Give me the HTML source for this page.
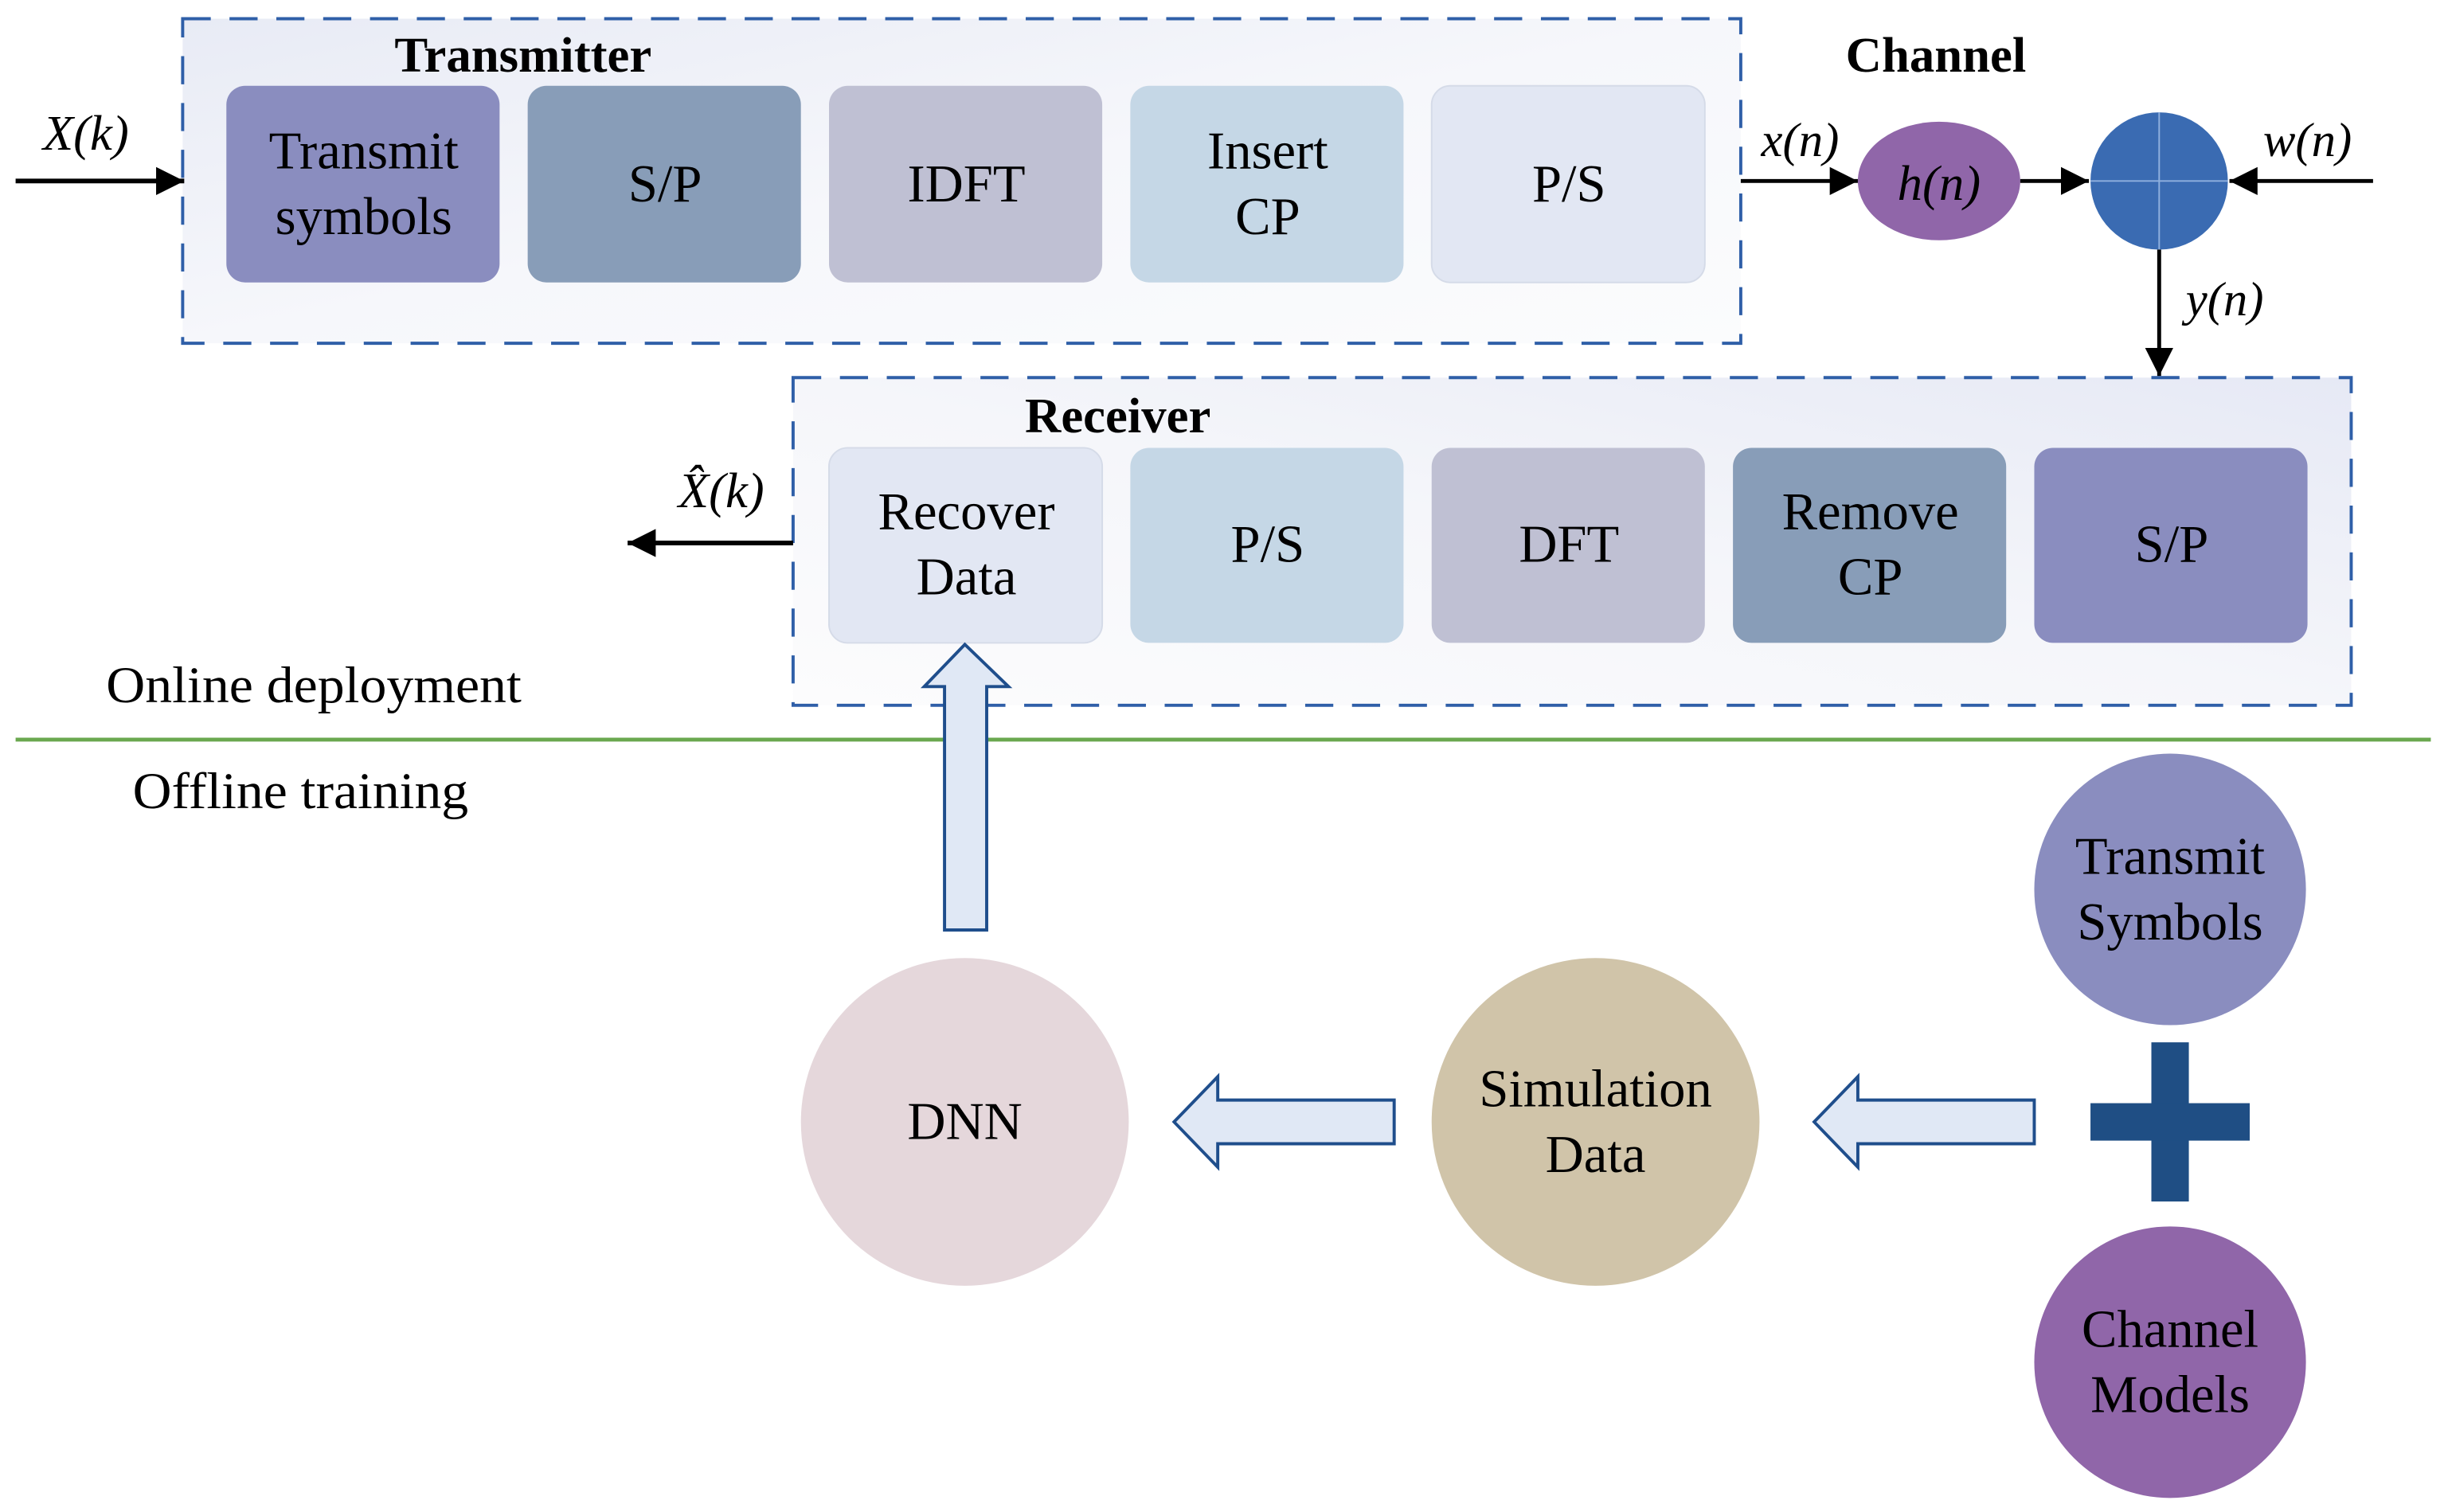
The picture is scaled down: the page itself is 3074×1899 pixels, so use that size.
<!DOCTYPE html>
<html><head><meta charset="utf-8"><style>
html,body{margin:0;padding:0;background:#fff}
svg{display:block}
text{font-family:"Liberation Serif",serif;fill:#000}
</style></head><body>
<svg width="3074" height="1899" viewBox="0 0 1568 969" preserveAspectRatio="none" xmlns="http://www.w3.org/2000/svg">
<defs>
<linearGradient id="g1" x1="0" y1="0" x2="1" y2="1">
<stop offset="0" stop-color="#e8ebf5"/><stop offset="0.5" stop-color="#f6f7fb"/><stop offset="1" stop-color="#fbfcfd"/>
</linearGradient>
<linearGradient id="g2" x1="1" y1="0" x2="0" y2="1">
<stop offset="0" stop-color="#e6e9f5"/><stop offset="0.5" stop-color="#f5f6fa"/><stop offset="1" stop-color="#fcfcfd"/>
</linearGradient>
<marker id="ah" viewBox="0 0 10 10" refX="10" refY="5" markerWidth="18" markerHeight="18" markerUnits="userSpaceOnUse" orient="auto">
<path d="M0,0 L10,5 L0,10 z" fill="#000"/></marker>
</defs>

<rect x="117" y="12" width="998" height="208" fill="url(#g1)" stroke="#2f5fa8" stroke-width="2" stroke-dasharray="18,12"/>
<text x="335" y="46" font-size="32" font-weight="bold" text-anchor="middle">Transmitter</text>
<rect x="145" y="55" width="175" height="126" rx="12" fill="#8a8dbf"/>
<rect x="338" y="55" width="175" height="126" rx="12" fill="#889db8"/>
<rect x="531" y="55" width="175" height="126" rx="12" fill="#bfc0d3"/>
<rect x="724" y="55" width="175" height="126" rx="12" fill="#c5d7e6"/>
<rect x="917" y="55" width="175" height="126" rx="12" fill="#e2e7f3" stroke="#d5dbe8"/>
<g font-size="34" text-anchor="middle">
<text x="233" y="108">Transmit</text><text x="233" y="150">symbols</text>
<text x="426" y="129">S/P</text>
<text x="619" y="129">IDFT</text>
<text x="812" y="108">Insert</text><text x="812" y="150">CP</text>
<text x="1005" y="129">P/S</text>
</g>
<line x1="10" y1="116" x2="118" y2="116" stroke="#000" stroke-width="3" marker-end="url(#ah)"/>
<text x="55" y="96" font-size="32" font-style="italic" text-anchor="middle">X(k)</text>

<text x="1240" y="46" font-size="32" font-weight="bold" text-anchor="middle">Channel</text>
<text x="1153" y="100" font-size="31" font-style="italic" text-anchor="middle">x(n)</text>
<line x1="1115" y1="116" x2="1190" y2="116" stroke="#000" stroke-width="2.5" marker-end="url(#ah)"/>
<ellipse cx="1242" cy="116" rx="52" ry="38" fill="#9066a9"/>
<text x="1242" y="128" font-size="32" font-style="italic" text-anchor="middle">h(n)</text>
<line x1="1294" y1="116" x2="1338" y2="116" stroke="#000" stroke-width="2.5" marker-end="url(#ah)"/>
<circle cx="1383" cy="116" r="44" fill="#3a6bb2"/>
<line x1="1339" y1="116" x2="1427" y2="116" stroke="#8fb0de" stroke-width="1"/>
<line x1="1383" y1="72" x2="1383" y2="160" stroke="#8fb0de" stroke-width="1"/>
<line x1="1520" y1="116" x2="1428" y2="116" stroke="#000" stroke-width="2.5" marker-end="url(#ah)"/>
<text x="1478" y="100" font-size="31" font-style="italic" text-anchor="middle">w(n)</text>
<line x1="1383" y1="160" x2="1383" y2="241" stroke="#000" stroke-width="2.5" marker-end="url(#ah)"/>
<text x="1425" y="202" font-size="31" font-style="italic" text-anchor="middle">y(n)</text>

<rect x="508" y="242" width="998" height="210" fill="url(#g2)" stroke="#2f5fa8" stroke-width="2" stroke-dasharray="18,12"/>
<text x="716" y="277" font-size="32" font-weight="bold" text-anchor="middle">Receiver</text>
<rect x="531" y="287" width="175" height="125" rx="12" fill="#e2e7f3" stroke="#d5dbe8"/>
<rect x="724" y="287" width="175" height="125" rx="12" fill="#c5d7e6"/>
<rect x="917" y="287" width="175" height="125" rx="12" fill="#bfc0d3"/>
<rect x="1110" y="287" width="175" height="125" rx="12" fill="#889db8"/>
<rect x="1303" y="287" width="175" height="125" rx="12" fill="#8a8dbf"/>
<g font-size="34" text-anchor="middle">
<text x="619" y="339">Recover</text><text x="619" y="381">Data</text>
<text x="812" y="360">P/S</text>
<text x="1005" y="360">DFT</text>
<text x="1198" y="339">Remove</text><text x="1198" y="381">CP</text>
<text x="1391" y="360">S/P</text>
</g>
<line x1="508" y1="348" x2="402" y2="348" stroke="#000" stroke-width="3" marker-end="url(#ah)"/>
<text x="462" y="325" font-size="32" font-style="italic" text-anchor="middle">X̂(k)</text>

<text x="68" y="450" font-size="33" textLength="266" lengthAdjust="spacingAndGlyphs">Online deployment</text>
<line x1="10" y1="474" x2="1557" y2="474" stroke="#6aa84f" stroke-width="2.5"/>
<text x="85" y="518" font-size="33" textLength="215" lengthAdjust="spacingAndGlyphs">Offline training</text>

<path d="M605,596 L605,440 L592,440 L618,413 L646,440 L632,440 L632,596 Z" fill="#e0e8f5" stroke="#1f4e8c" stroke-width="2"/>
<path d="M893,705 L780,705 L780,690 L752,719 L780,748 L780,733 L893,733 Z" fill="#e0e8f5" stroke="#1f4e8c" stroke-width="2"/>
<path d="M1303,705 L1190,705 L1190,690 L1162,719 L1190,748 L1190,733 L1303,733 Z" fill="#e0e8f5" stroke="#1f4e8c" stroke-width="2"/>

<circle cx="618" cy="719" r="105" fill="#e5d7db"/>
<text x="618" y="730" font-size="34" text-anchor="middle">DNN</text>
<circle cx="1022" cy="719" r="105" fill="#d0c4a9"/>
<text x="1022" y="709" font-size="34" text-anchor="middle">Simulation</text>
<text x="1022" y="751" font-size="34" text-anchor="middle">Data</text>
<circle cx="1390" cy="570" r="87" fill="#8a8dbf"/>
<text x="1390" y="560" font-size="34" text-anchor="middle">Transmit</text>
<text x="1390" y="602" font-size="34" text-anchor="middle">Symbols</text>
<circle cx="1390" cy="873" r="87" fill="#9066a9"/>
<text x="1390" y="863" font-size="34" text-anchor="middle">Channel</text>
<text x="1390" y="905" font-size="34" text-anchor="middle">Models</text>
<rect x="1378" y="668" width="24" height="102" fill="#1f4e84"/>
<rect x="1339" y="707" width="102" height="24" fill="#1f4e84"/>
</svg>
</body></html>
